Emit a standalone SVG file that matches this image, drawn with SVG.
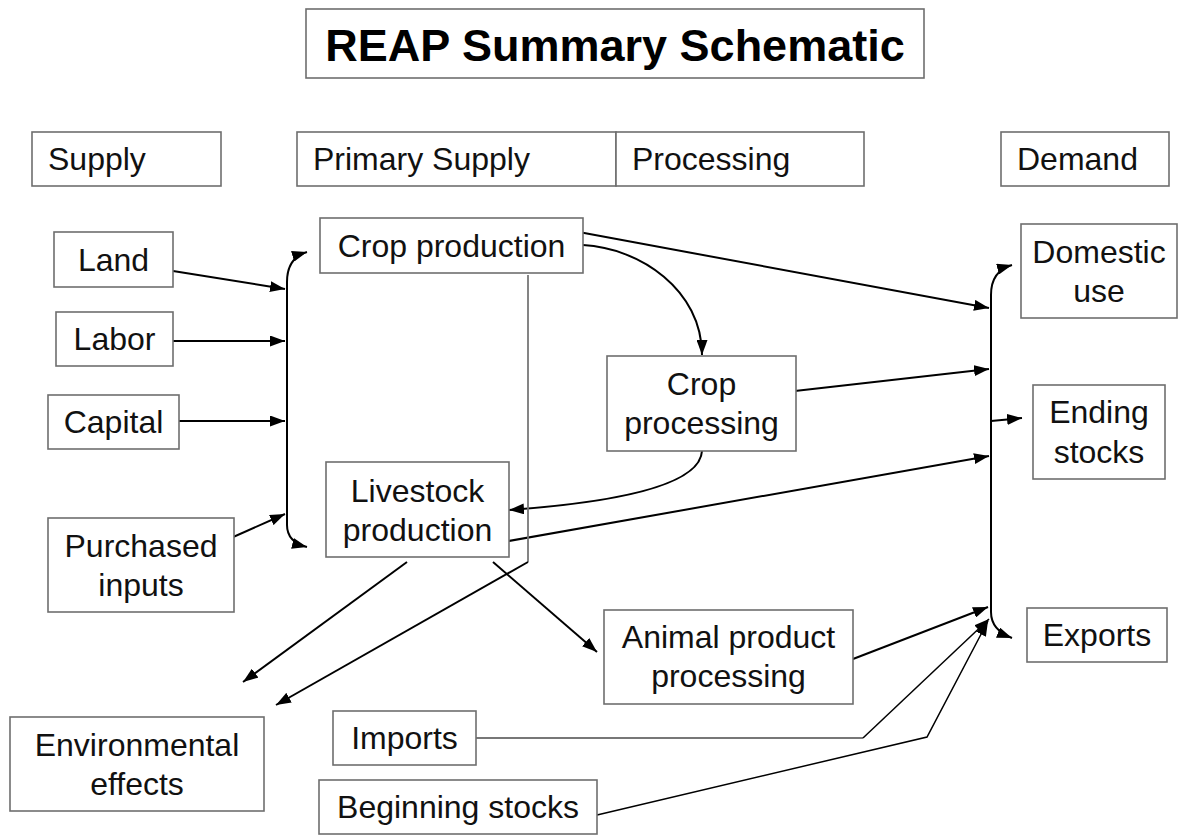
<svg xmlns="http://www.w3.org/2000/svg" width="1178" height="835" viewBox="0 0 1178 835">
<style>
.box{fill:#fff;stroke:#6e6e6e;stroke-width:1.6}
.t{font-family:"Liberation Sans",Arial,sans-serif;font-size:32px;fill:#111;text-anchor:middle}
.h{font-family:"Liberation Sans",Arial,sans-serif;font-size:32px;fill:#111}
.title{font-family:"Liberation Sans",Arial,sans-serif;font-size:45px;font-weight:bold;fill:#000;text-anchor:middle}
.c{fill:none;stroke:#000;stroke-width:2}
.thin{fill:none;stroke:#000;stroke-width:1.5}
.g{fill:none;stroke:#777;stroke-width:1.8}
</style>
<defs>
<marker id="ah" viewBox="0 0 15 11" refX="15" refY="5.5" markerWidth="15" markerHeight="11" markerUnits="userSpaceOnUse" orient="auto-start-reverse">
<path d="M0,0 L15,5.5 L0,11 Z" fill="#000"/>
</marker>
</defs>
<rect width="1178" height="835" fill="#fff"/>
<g id="title"><rect class="box" x="306" y="9" width="618" height="69"/><text class="title" x="615" y="61">REAP Summary Schematic</text></g>
<g id="hdr-supply"><rect class="box" x="32" y="132" width="189" height="54"/><text class="h" x="48" y="170">Supply</text></g>
<g id="hdr-primary"><rect class="box" x="297" y="132" width="319" height="54"/><text class="h" x="313" y="170">Primary Supply</text></g>
<g id="hdr-processing"><rect class="box" x="616" y="132" width="248" height="54"/><text class="h" x="632" y="170">Processing</text></g>
<g id="hdr-demand"><rect class="box" x="1001" y="132" width="168" height="54"/><text class="h" x="1017" y="170">Demand</text></g>
<g id="connectors">
<path class="c" d="M173,271 L285,289" marker-end="url(#ah)"/>
<path class="c" d="M173,341 L285,341" marker-end="url(#ah)"/>
<path class="c" d="M172,421 L285,421" marker-end="url(#ah)"/>
<path class="c" d="M222,542 L285,514" marker-end="url(#ah)"/>
<path class="c" d="M307,252 Q287,258 287,282 L287,525 Q287,542 307,547" marker-start="url(#ah)" marker-end="url(#ah)"/>
<path class="c" d="M1012,265 Q991,271 991,295 L991,612 Q991,630 1012,638" marker-start="url(#ah)" marker-end="url(#ah)"/>
<path class="c" d="M568,230 L989,308" marker-end="url(#ah)"/>
<path class="c" d="M583,245 C640,248 702,290 702,355" marker-end="url(#ah)"/>
<path class="c" d="M786,392 L989,369" marker-end="url(#ah)"/>
<path class="c" d="M702,451 C700,485 620,502 509,510" marker-end="url(#ah)"/>
<path class="c" d="M503,542 L989,456" marker-end="url(#ah)"/>
<path class="c" d="M991,421 L1022,418" marker-end="url(#ah)"/>
<path class="c" d="M407,562 L243,682" marker-end="url(#ah)"/>
<path class="g" d="M528,275 L528,562"/>
<path class="c" d="M528,562 L276,705" marker-end="url(#ah)"/>
<path class="c" d="M493,562 L597,652" marker-end="url(#ah)"/>
<path class="c" d="M840,664 L988,607" marker-end="url(#ah)"/>
<path class="g" d="M476,738 L863,738"/>
<path class="thin" d="M863,738 L989,619" marker-end="url(#ah)"/>
<path class="thin" d="M597,815 L927,737 L988,621" marker-end="url(#ah)"/>
</g>
<g id="land"><rect class="box" x="54" y="232" width="119" height="55"/><text class="t" x="113.5" y="271">Land</text></g>
<g id="labor"><rect class="box" x="56" y="312" width="117" height="54"/><text class="t" x="114.5" y="350">Labor</text></g>
<g id="capital"><rect class="box" x="48" y="395" width="131" height="54"/><text class="t" x="113.5" y="433">Capital</text></g>
<g id="purchased"><rect class="box" x="48" y="518" width="186" height="94"/><text class="t" x="141" y="557">Purchased</text><text class="t" x="141" y="596">inputs</text></g>
<g id="crop-production"><rect class="box" x="320" y="218" width="263" height="55"/><text class="t" x="451.5" y="257">Crop production</text></g>
<g id="livestock"><rect class="box" x="326" y="462" width="183" height="95"/><text class="t" x="417.5" y="502">Livestock</text><text class="t" x="417.5" y="541">production</text></g>
<g id="crop-processing"><rect class="box" x="607" y="356" width="189" height="95"/><text class="t" x="701.5" y="395">Crop</text><text class="t" x="701.5" y="434">processing</text></g>
<g id="animal"><rect class="box" x="604" y="610" width="249" height="94"/><text class="t" x="728.5" y="648">Animal product</text><text class="t" x="728.5" y="687">processing</text></g>
<g id="environmental"><rect class="box" x="10" y="717" width="254" height="94"/><text class="t" x="137" y="756">Environmental</text><text class="t" x="137" y="795">effects</text></g>
<g id="imports"><rect class="box" x="333" y="711" width="143" height="54"/><text class="t" x="404.5" y="749">Imports</text></g>
<g id="beginning"><rect class="box" x="319" y="780" width="278" height="54"/><text class="t" x="458" y="818">Beginning stocks</text></g>
<g id="domestic"><rect class="box" x="1021" y="224" width="156" height="94"/><text class="t" x="1099" y="263">Domestic</text><text class="t" x="1099" y="302">use</text></g>
<g id="ending"><rect class="box" x="1033" y="385" width="132" height="94"/><text class="t" x="1099" y="423">Ending</text><text class="t" x="1099" y="463">stocks</text></g>
<g id="exports"><rect class="box" x="1027" y="608" width="140" height="54"/><text class="t" x="1097" y="646">Exports</text></g>
</svg>
